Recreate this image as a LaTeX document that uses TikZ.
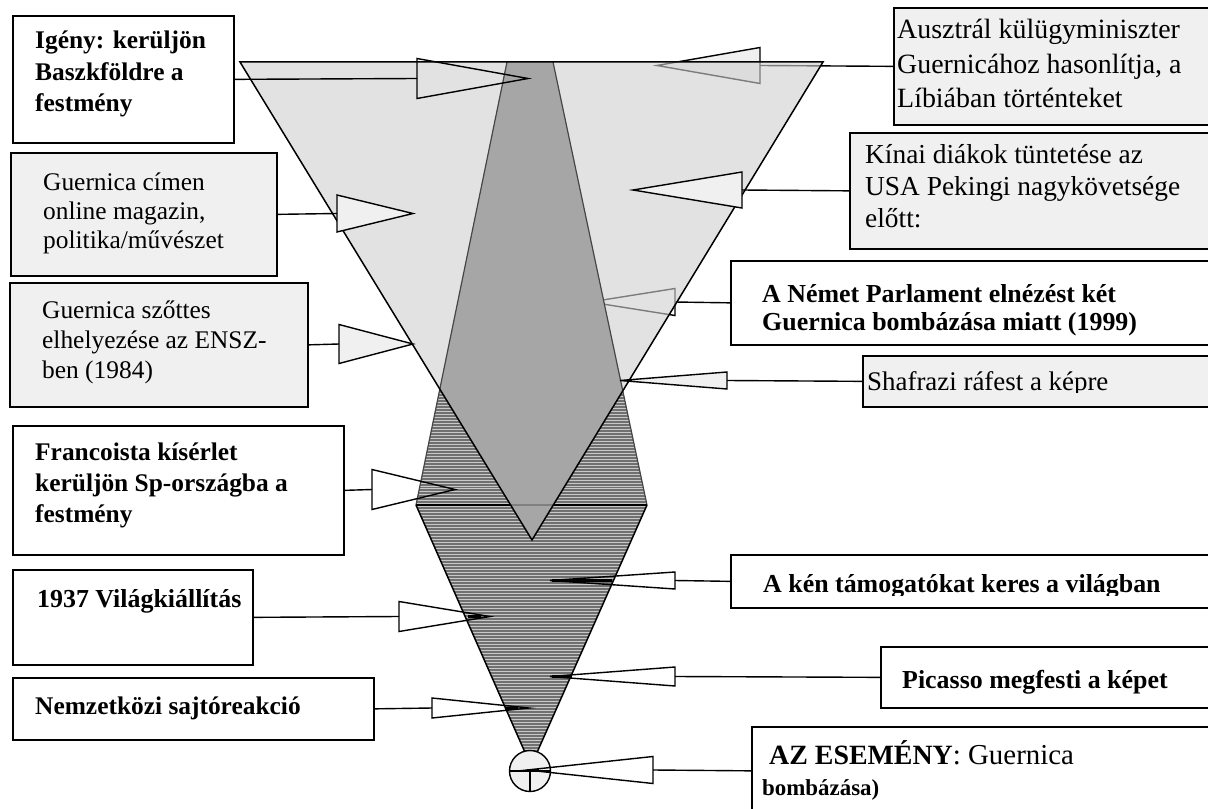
\documentclass[tikz,border=0pt]{standalone}
\usepackage{fontspec}
\setmainfont{Liberation Serif}
\usetikzlibrary{patterns}
\definecolor{boxgray}{RGB}{240,240,240}
\definecolor{lighttri}{RGB}{207,207,207}
\definecolor{darkfill}{RGB}{112,112,112}
\definecolor{stripe}{RGB}{200,200,200}
\definecolor{midfill}{RGB}{166,166,166}
\definecolor{edgegray}{RGB}{70,70,70}
\begin{document}
\begin{tikzpicture}[x=1bp,y=-1bp,
  box/.style={draw=black, line width=1.7bp, fill=white, inner sep=0pt, anchor=north west},
  gbox/.style={box, fill=boxgray},
  lt/.style={font=\fontsize{25.5}{29}\selectfont, align=left, inner sep=0pt, anchor=base west},
  lb/.style={font=\fontsize{25.5}{32}\selectfont\bfseries, align=left, inner sep=0pt, anchor=base west},
  rt/.style={font=\fontsize{27}{32}\selectfont, align=left, inner sep=0pt, anchor=base west},
  rb/.style={font=\fontsize{26}{28}\selectfont\bfseries, align=left, inner sep=0pt, anchor=base west},
  conn/.style={line width=1.4bp},
  arr/.style={line width=1.4bp, line join=miter},
  garr/.style={arr, fill=boxgray},
  tipbar/.style={line width=3bp}]
\useasboundingbox (0,0) rectangle (1208,809);
\clip (0,0) rectangle (1208,809);

% ---------- boxes ----------
\path
  (12,15)  node[box,  minimum width=221bp, minimum height=127bp] (igeny) {}
  (10,152) node[gbox, minimum width=266bp, minimum height=123bp] (cimen) {}
  (9,282)  node[gbox, minimum width=298bp, minimum height=124bp] (szottes) {}
  (12,425) node[box,  minimum width=331bp, minimum height=129bp] (franco) {}
  (12,569) node[box,  minimum width=240bp, minimum height=95bp]  (vilag) {}
  (12,677) node[box,  minimum width=361bp, minimum height=62bp]  (sajto) {}
  (893,7)  node[gbox, minimum width=330bp, minimum height=117bp] (auszt) {}
  (849,132) node[gbox, minimum width=370bp, minimum height=116bp] (kinai) {}
  (730,260) node[box, minimum width=490bp, minimum height=84bp]  (nemet) {}
  (862,355) node[gbox, minimum width=360bp, minimum height=51bp] (shaf) {}
  (730,554) node[box, minimum width=490bp, minimum height=53bp]  (ken) {}
  (880,646) node[box, minimum width=340bp, minimum height=61bp]  (picasso) {}
  (751,726) node[box, minimum width=470bp, minimum height=88bp]  (esem) {};

% arrow base and tip coordinates (at box centre heights)
\coordinate (b1) at (417,78.5);   \coordinate (t1) at (528,78.5);
\coordinate (b2) at (337,213.5);  \coordinate (t2) at (413,213.5);
\coordinate (b3) at (339,344);    \coordinate (t3) at (413,344);
\coordinate (b4) at (372,489.5);  \coordinate (t4) at (455,489.5);
\coordinate (b5) at (399,616.5);  \coordinate (t5) at (490,616.5);
\coordinate (b6) at (432,708);    \coordinate (t6) at (529,708);
\coordinate (b7) at (760,65.5);   \coordinate (t7) at (657,65.5);
\coordinate (b8) at (742,190);    \coordinate (t8) at (633,190);
\coordinate (b9) at (675,302);    \coordinate (t9) at (590,302);
\coordinate (b10) at (727,380.5); \coordinate (t10) at (620,380.5);
\coordinate (b11) at (675,580.5); \coordinate (t11) at (550,580.5);
\coordinate (b12) at (675,676.5); \coordinate (t12) at (550,676.5);
\coordinate (b13) at (653,770);   \coordinate (t13) at (527,770);

% ---------- arrows lying behind the large triangle ----------
\draw[garr] ([yshift=-18bp]b7) -- (t7) -- ([yshift=18bp]b7) -- cycle;
\draw[conn] (auszt.west) -- (b7);
\draw[arr] ([yshift=-13.5bp]b9) -- (t9) -- ([yshift=13.5bp]b9) -- cycle;
\draw[conn] (nemet.west) -- (b9);

% ---------- the three shapes ----------
\fill[lighttri, fill opacity=0.6] (240,62) -- (823,62) -- (532,540) -- cycle;
\fill[darkfill] (507,62) -- (553,62) -- (647,505) -- (531,766) -- (416,505) -- cycle;
\fill[pattern=horizontal lines, pattern color=stripe] (507,62) -- (553,62) -- (647,505) -- (531,766) -- (416,505) -- cycle;
\begin{scope}
  \clip (240,62) -- (823,62) -- (532,540) -- cycle;
  \fill[midfill] (507,62) -- (553,62) -- (647,505) -- (531,766) -- (416,505) -- cycle;
\end{scope}
\draw[edgegray, line width=1.2bp] (507,62) -- (416,505);
\draw[edgegray, line width=1.2bp] (553,62) -- (647,505);
\draw[line width=1.5bp] (416,505) -- (531,766) -- (647,505);
\draw[line width=2.6bp] (416,505) -- (647,505);
\begin{scope}
  \clip (240,62) -- (823,62) -- (532,540) -- cycle;
  \draw[gray, line width=2.6bp] (416,505) -- (647,505);
\end{scope}
\draw[line width=1.5bp, line join=miter] (240,62) -- (823,62) -- (532,540) -- cycle;

% circle at the apex
\node[circle, draw, line width=1.4bp, fill=boxgray, minimum size=41bp, inner sep=0pt] (ev) at (530,771) {};
\draw[line width=1.2bp] (ev.west) -- (ev.east);
\draw[line width=1.2bp] (ev.center) -- (ev.south);

% ---------- arrows on top ----------
\draw[arr] ([yshift=-20bp]b1) -- (t1) -- ([yshift=20bp]b1) -- cycle;
\draw[conn] (igeny.east) -- (b1);
\draw[garr] ([yshift=-18.5bp]b2) -- (t2) -- ([yshift=18.5bp]b2) -- cycle;
\draw[conn] (cimen.east) -- (b2);
\draw[garr] ([yshift=-19.5bp]b3) -- (t3) -- ([yshift=19.5bp]b3) -- cycle;
\draw[conn] (szottes.east) -- (b3);
\draw[arr] ([yshift=-20bp]b4) -- (t4) -- ([yshift=20bp]b4) -- cycle;
\draw[conn] (franco.east) -- (b4);
\draw[arr] ([yshift=-15bp]b5) -- (t5) -- ([yshift=15bp]b5) -- cycle;
\draw[conn] (vilag.east) -- (b5);
\draw[tipbar] ([xshift=-22bp]t5) -- ([xshift=-9bp]t5);
\draw[arr] ([yshift=-10bp]b6) -- (t6) -- ([yshift=10bp]b6) -- cycle;
\draw[conn] (sajto.east) -- (b6);
\draw[tipbar] ([xshift=-24bp]t6) -- ([xshift=-11bp]t6);
\draw[garr] ([yshift=-18bp]b8) -- (t8) -- ([yshift=18bp]b8) -- cycle;
\draw[conn] (kinai.west) -- (b8);
\draw[garr] ([yshift=-8.5bp]b10) -- (t10) -- ([yshift=8.5bp]b10) -- cycle;
\draw[conn] (shaf.west) -- (b10);
\draw[arr] ([yshift=-8.5bp]b11) -- (t11) -- ([yshift=8.5bp]b11) -- cycle;
\draw[conn] (ken.west) -- (b11);
\draw[tipbar] ([xshift=2bp]t11) -- ([xshift=62bp]t11);
\draw[arr] ([yshift=-9.5bp]b12) -- (t12) -- ([yshift=9.5bp]b12) -- cycle;
\draw[conn] (picasso.west) -- (b12);
\draw[tipbar] ([xshift=2bp]t12) -- ([xshift=22bp]t12);
\draw[arr] ([yshift=-13.5bp]b13) -- (t13) -- ([yshift=13.5bp]b13) -- cycle;
\draw[conn] (esem.west) -- (b13);
\draw[tipbar] (t13) -- ([xshift=12bp]t13);

% ---------- texts (anchored at the baseline of the last line) ----------
\node[lb] (igenyT) at (35,112) {Igény: kerüljön\\Baszkföldre a\\festmény};
\node[lt] (cimenT) at (43,248) {Guernica címen\\online magazin,\\politika/művészet};
\node[lt, font=\fontsize{25.5}{30}\selectfont] (szottesT) at (42,378) {Guernica szőttes\\elhelyezése az ENSZ-\\ben (1984)};
\node[lb, font=\fontsize{25.5}{31}\selectfont\bfseries] (francoT) at (35,522) {Francoista kísérlet\\kerüljön Sp-országba a\\festmény};
\node[lb, font=\fontsize{26}{32}\selectfont\bfseries] (vilagT) at (37,607) {1937 Világkiállítás};
\node[lb] (sajtoT) at (35,714) {Nemzetközi sajtóreakció};
\node[rt, font=\fontsize{28}{35}\selectfont] (ausztT) at (897,108) {Ausztrál külügyminiszter\\Guernicához hasonlítja, a\\Líbiában történteket};
\node[rt, font=\fontsize{27.5}{32}\selectfont] (kinaiT) at (865,227) {Kínai diákok tüntetése az\\USA Pekingi nagykövetsége\\előtt:};
\node[rb] (nemetT) at (762,330) {A Német Parlament elnézést két\\Guernica bombázása miatt (1999)};
\begin{scope}
  \clip (862,355) rectangle (1208,392.5);
  \node[rt] (shafT) at (867,390) {Shafrazi ráfest a képre};
\end{scope}
\begin{scope}
  \clip (730,554) rectangle (1208,595);
  \node[rb] (kenT) at (763,592) {A kén támogatókat keres a világban};
\end{scope}
\node[rb] (picT) at (902,688) {Picasso megfesti a képet};
\node[rb, font=\fontsize{23}{31}\selectfont\bfseries] (esemT) at (762,795)
  {\hspace*{7bp}{\fontsize{28}{31}\selectfont AZ ESEMÉNY}{\fontsize{29}{31}\selectfont\mdseries: Guernica}\\bombázása)};
\end{tikzpicture}
\end{document}
